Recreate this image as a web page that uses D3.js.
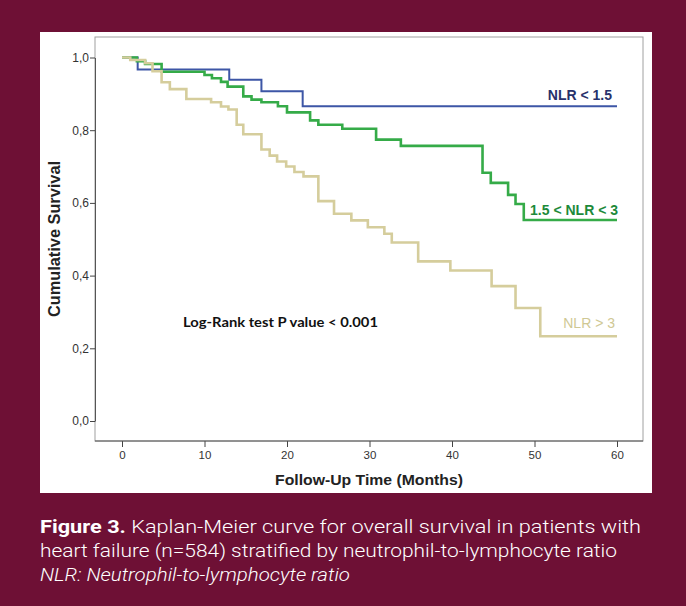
<!DOCTYPE html>
<html>
<head>
<meta charset="utf-8">
<script src="https://cdn.jsdelivr.net/npm/d3@7"></script>
<style>
  body { margin: 0; background: #6e1035; }
  svg { display: block; }
</style>
</head>
<body>
<div id="chart"></div>
<script>
var w = 686;
var h = 606;

// survival curves (time in months, cumulative survival)
var lowT  = [0, 1.9, 13.0, 16.9, 21.9, 60];
var lowS  = [1, 0.967, 0.939, 0.907, 0.866, 0.866];

var midT  = [0, 1.8, 2.8, 4.8, 10.0, 10.9, 12.0, 12.8, 14.7, 15.7, 16.9, 18.9, 20.0, 22.8, 23.8, 26.7, 30.8, 33.8, 43.7, 44.7, 46.8, 47.7, 48.7, 60];
var midS  = [1, 0.99, 0.982, 0.961, 0.952, 0.943, 0.933, 0.92, 0.893, 0.884, 0.877, 0.866, 0.849, 0.827, 0.815, 0.804, 0.774, 0.757, 0.683, 0.655, 0.622, 0.597, 0.553, 0.553];

var highT = [0, 1.0, 2.8, 3.7, 4.8, 5.8, 7.8, 10.8, 12.0, 12.9, 13.9, 14.7, 16.9, 17.9, 18.8, 19.9, 20.9, 22.0, 23.8, 25.7, 27.8, 29.8, 31.8, 32.7, 35.9, 39.8, 44.8, 47.7, 50.7, 60];
var highS = [1, 0.993, 0.984, 0.962, 0.932, 0.913, 0.886, 0.877, 0.865, 0.857, 0.815, 0.789, 0.747, 0.73, 0.714, 0.70, 0.685, 0.673, 0.605, 0.570, 0.552, 0.533, 0.515, 0.491, 0.439, 0.414, 0.371, 0.311, 0.233, 0.233];

var xTicks = [0, 10, 20, 30, 40, 50, 60];
var yTicks = [0, 0.2, 0.4, 0.6, 0.8, 1.0];

var series = [
    { name: 'NLR < 1.5', t: lowT, s: lowS, color: '#3d56a6', width: 2, labelColor: '#27316b', bold: true },
    { name: '1.5 < NLR < 3', t: midT, s: midS, color: '#35ab48', width: 2.6, labelColor: '#1d8a3a', bold: true },
    { name: 'NLR > 3', t: highT, s: highS, color: '#d5cd9c', width: 2.6, labelColor: '#cfc894', bold: false }
];

var svg = d3.select('#chart')
    .append('svg')
    .attr('width', w)
    .attr('height', h);

// white panel
svg.append('rect')
    .attr('x', 40).attr('y', 32)
    .attr('width', 612).attr('height', 461)
    .attr('fill', '#fff');

var x = d3.scaleLinear().domain([0, 60]).range([122, 617]);
var y = d3.scaleLinear().domain([0, 1]).range([421, 57.5]);

// frame
svg.append('rect')
    .attr('x', 95).attr('y', 37)
    .attr('width', 548).attr('height', 404)
    .attr('fill', 'none')
    .attr('stroke', '#a0a0a0')
    .attr('stroke-width', 1);

var yAxis = svg.append('g')
    .attr('transform', 'translate(95,0)')
    .call(d3.axisLeft(y).tickValues(yTicks).tickSize(5).tickSizeOuter(0)
        .tickFormat(function(d) { return d3.format('.1f')(d).replace('.', ','); }));
yAxis.select('.domain').attr('stroke', '#555');
yAxis.selectAll('.tick line').attr('stroke', '#444');
yAxis.selectAll('.tick text')
    .attr('font-family', 'Liberation Sans, Arial, sans-serif')
    .attr('font-size', 12)
    .attr('fill', '#333')
    .attr('x', -6);

var xAxis = svg.append('g')
    .attr('transform', 'translate(0,441)')
    .call(d3.axisBottom(x).tickValues(xTicks).tickSize(6).tickSizeOuter(0));
xAxis.select('.domain').remove();
svg.append('line')
    .attr('x1', 95).attr('x2', 643).attr('y1', 441).attr('y2', 441)
    .attr('stroke', '#555');
xAxis.selectAll('.tick line').attr('stroke', '#444');
xAxis.selectAll('.tick text')
    .attr('font-family', 'Liberation Sans, Arial, sans-serif')
    .attr('font-size', 11.5)
    .attr('fill', '#333')
    .attr('y', 10);

// curves
var line = d3.line()
    .x(function(d) { return x(d[0]); })
    .y(function(d) { return y(d[1]); })
    .curve(d3.curveStepAfter);

series.forEach(function(sr) {
    var pts = sr.t.map(function(t, i) { return [t, sr.s[i]]; });
    svg.append('path')
        .datum(pts)
        .attr('d', line)
        .attr('fill', 'none')
        .attr('stroke', sr.color)
        .attr('stroke-width', sr.width);
});

// curve labels
var labelPos = [
    { x: 612, dy: -6 },
    { x: 618, dy: -5 },
    { x: 615, dy: -8 }
];
series.forEach(function(sr, i) {
    var last = sr.s[sr.s.length - 1];
    svg.append('text')
        .attr('x', labelPos[i].x)
        .attr('y', y(last) + labelPos[i].dy)
        .attr('text-anchor', 'end')
        .attr('font-family', 'Liberation Sans, Arial, sans-serif')
        .attr('font-size', 14)
        .attr('font-weight', sr.bold ? 'bold' : 'normal')
        .attr('fill', sr.labelColor)
        .text(sr.name);
});

svg.append('text')
    .attr('x', 183).attr('y', 327)
    .attr('font-family', 'Lato, Open Sans, sans-serif')
    .attr('font-size', 14)
    .attr('font-weight', 'bold')
    .attr('fill', '#111')
    .attr('textLength', 195)
    .attr('lengthAdjust', 'spacingAndGlyphs')
    .text('Log-Rank test P value < 0.001');

// axis titles
svg.append('text')
    .attr('transform', 'translate(60,239) rotate(-90)')
    .attr('text-anchor', 'middle')
    .attr('font-family', 'Liberation Sans, Arial, sans-serif')
    .attr('font-size', 16)
    .attr('font-weight', 'bold')
    .attr('fill', '#222')
    .attr('textLength', 156)
    .attr('lengthAdjust', 'spacingAndGlyphs')
    .text('Cumulative Survival');

svg.append('text')
    .attr('x', 369).attr('y', 485)
    .attr('text-anchor', 'middle')
    .attr('font-family', 'Liberation Sans, Arial, sans-serif')
    .attr('font-size', 15)
    .attr('font-weight', 'bold')
    .attr('fill', '#222')
    .attr('textLength', 188)
    .attr('lengthAdjust', 'spacingAndGlyphs')
    .text('Follow-Up Time (Months)');

// caption
var cap1 = svg.append('text')
    .attr('x', 40).attr('y', 533)
    .attr('font-family', 'Roboto, sans-serif')
    .attr('font-size', 19)
    .attr('fill', '#fff')
    .attr('textLength', 601)
    .attr('lengthAdjust', 'spacingAndGlyphs');
cap1.append('tspan').attr('font-weight', 'bold').text('Figure 3.');
cap1.append('tspan').attr('font-weight', 300).text(' Kaplan-Meier curve for overall survival in patients with');

svg.append('text')
    .attr('x', 40).attr('y', 557)
    .attr('font-family', 'Roboto, sans-serif')
    .attr('font-size', 19)
    .attr('font-weight', 300)
    .attr('fill', '#fff')
    .attr('textLength', 577)
    .attr('lengthAdjust', 'spacingAndGlyphs')
    .text('heart failure (n=584) stratified by neutrophil-to-lymphocyte ratio');

svg.append('text')
    .attr('x', 40).attr('y', 581)
    .attr('font-family', 'Roboto, sans-serif')
    .attr('font-size', 19)
    .attr('font-weight', 300)
    .attr('font-style', 'italic')
    .attr('fill', '#fff')
    .attr('textLength', 310)
    .attr('lengthAdjust', 'spacingAndGlyphs')
    .text('NLR: Neutrophil-to-lymphocyte ratio');
</script>
</body>
</html>
